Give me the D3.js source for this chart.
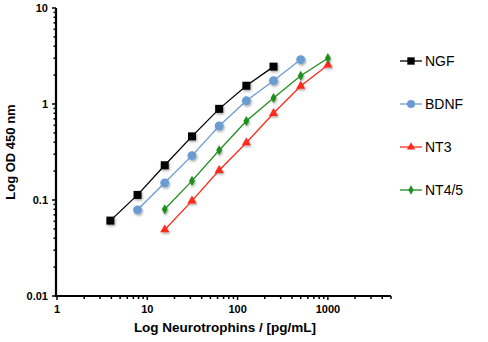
<!DOCTYPE html>
<html><head><meta charset="utf-8">
<script src="https://cdn.jsdelivr.net/npm/d3@7"></script>
<style>
html,body{margin:0;padding:0;background:#fff;}
svg{display:block;font-family:"Liberation Sans",Arial,sans-serif;}
</style></head>
<body><svg id="c" width="488" height="342"></svg>
<script>
const xTicks = [1, 10, 100, 1000];
const yTicks = [0.01, 0.1, 1, 10];
const seriesNames = ["NGF", "BDNF", "NT3", "NT4/5"];
const ngfX = [3.9, 7.8, 15.6, 31.25, 62.5, 125, 250];
const ngfY = [0.061, 0.113, 0.23, 0.46, 0.89, 1.55, 2.45];
const bdnfX = [7.8, 15.6, 31.25, 62.5, 125, 250, 500];
const bdnfY = [0.079, 0.151, 0.29, 0.59, 1.08, 1.75, 2.9];
const nt3X = [15.6, 31.25, 62.5, 125, 250, 500, 1000];
const nt3Y = [0.049, 0.098, 0.204, 0.395, 0.80, 1.54, 2.55];
const nt45X = [15.6, 31.25, 62.5, 125, 250, 500, 1000];
const nt45Y = [0.08, 0.158, 0.33, 0.665, 1.155, 1.97, 3.0];

const series = [
  {name: seriesNames[0], xs: ngfX, ys: ngfY, color: "#000000", sym: d3.symbolSquare, size: 64},
  {name: seriesNames[1], xs: bdnfX, ys: bdnfY, color: "#6b9bd1", sym: d3.symbolCircle, size: 62},
  {name: seriesNames[2], xs: nt3X, ys: nt3Y, color: "#ff2a1a", sym: d3.symbolTriangle, size: 36},
  {name: seriesNames[3], xs: nt45X, ys: nt45Y, color: "#1f8f1f", sym: d3.symbolDiamond, size: 30}
];

const svg = d3.select("#c");
const defs = svg.append("defs");
const f = defs.append("filter").attr("id","sh").attr("x","-50%").attr("y","-50%").attr("width","200%").attr("height","200%");
f.append("feDropShadow").attr("dx",1).attr("dy",1.5).attr("stdDeviation",1).attr("flood-color","#000").attr("flood-opacity",0.35);

const x = d3.scaleLog().domain([1, 5000]).range([57, 391]);
const y = d3.scaleLog().domain([0.01, 10]).range([296, 8]);

// minor ticks
const xMinor = [];
for (let d = 1; d <= 1000; d *= 10) for (let k = 2; k <= 9; k++) if (d*k <= 5000) xMinor.push(d*k);
const yMinor = [];
for (let d = 0.01; d < 10; d *= 10) for (let k = 2; k <= 9; k++) yMinor.push(+(d*k).toPrecision(2));

const gx = svg.append("g").attr("transform","translate(0,296)");
gx.selectAll("line.mi").data(xMinor).join("line").attr("x1",d=>x(d)).attr("x2",d=>x(d)).attr("y1",0).attr("y2",3).attr("stroke","#000").attr("stroke-width",1.5);
gx.selectAll("line.ma").data(xTicks).join("line").attr("x1",d=>x(d)).attr("x2",d=>x(d)).attr("y1",0).attr("y2",4).attr("stroke","#000").attr("stroke-width",1.5);
gx.append("line").attr("x1",x(1)-1).attr("x2",x(5000)).attr("stroke","#000").attr("stroke-width",2.2);
gx.selectAll("text").data(xTicks).join("text").attr("x",d=>x(d)).attr("y",17).attr("text-anchor","middle")
  .attr("font-size",11).attr("font-weight","bold").text(d=>d3.format("d")(d));

const gy = svg.append("g").attr("transform","translate(56,0)");
gy.selectAll("line.mi").data(yMinor).join("line").attr("y1",d=>y(d)).attr("y2",d=>y(d)).attr("x1",0).attr("x2",-2.5).attr("stroke","#000").attr("stroke-width",1.5);
gy.selectAll("line.ma").data(yTicks).join("line").attr("y1",d=>y(d)).attr("y2",d=>y(d)).attr("x1",0).attr("x2",-4).attr("stroke","#000").attr("stroke-width",1.5);
gy.append("line").attr("y1",y(10)).attr("y2",y(0.01)+1).attr("stroke","#000").attr("stroke-width",2.2);
gy.selectAll("text").data(yTicks).join("text").attr("x",-8).attr("y",d=>y(d)+4).attr("text-anchor","end")
  .attr("font-size",11).attr("font-weight","bold").text(d=>String(d));

svg.append("text").attr("x",225).attr("y",332).attr("text-anchor","middle").attr("font-size",13.5).attr("font-weight","bold")
  .text("Log Neurotrophins / [pg/mL]");
svg.append("text").attr("transform","translate(15,152) rotate(-90)").attr("text-anchor","middle").attr("font-size",13).attr("font-weight","bold")
  .text("Log OD 450 nm");

const line = d3.line().x(d=>x(d[0])).y(d=>y(d[1]));
series.forEach(s => {
  const pts = s.xs.map((v,i)=>[v, s.ys[i]]);
  svg.append("path").datum(pts).attr("d",line).attr("fill","none").attr("stroke",s.color).attr("stroke-width",1.3);
  svg.append("g").attr("filter","url(#sh)").selectAll("path").data(pts).join("path")
    .attr("transform",d=>`translate(${x(d[0])},${y(d[1])})`)
    .attr("d",d3.symbol().type(s.sym).size(s.size)).attr("fill",s.color);
});

// legend
const legY = [61, 104, 147, 190];
series.forEach((s,i) => {
  const g = svg.append("g").attr("transform",`translate(400,${legY[i]})`);
  g.append("line").attr("x1",0).attr("x2",22).attr("stroke",s.color).attr("stroke-width",1.3);
  g.append("path").attr("transform","translate(11,0)").attr("d",d3.symbol().type(s.sym).size(s.size*0.85)).attr("fill",s.color);
  g.append("text").attr("x",25).attr("y",5).attr("font-size",14).attr("fill","#000").text(s.name);
});
</script></body></html>
